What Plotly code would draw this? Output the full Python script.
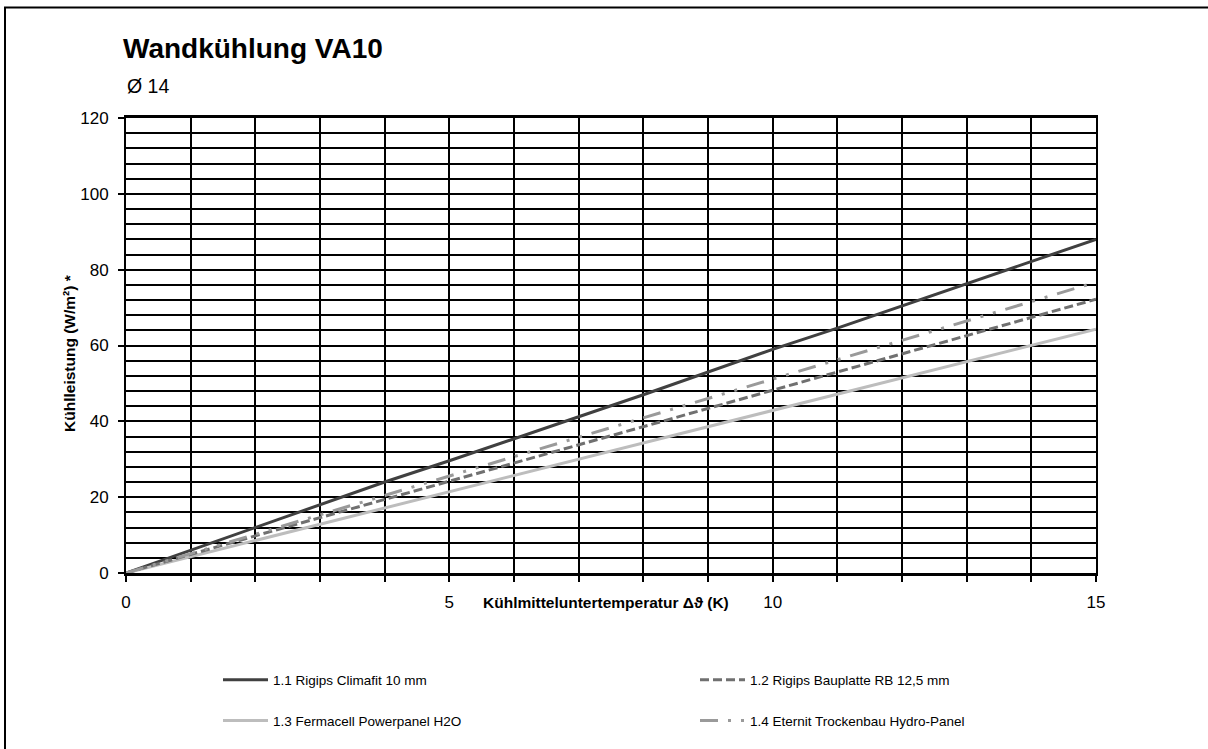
import plotly.graph_objects as go

x_vals = [0, 1, 2, 3, 4, 5, 6, 7, 8, 9, 10, 11, 12, 13, 14, 15]
s11 = [0, 6.0, 12.0, 18.0, 24.0, 29.6, 35.5, 41.2, 47.0, 53.0, 59.0, 64.6, 70.4, 76.2, 82.0, 88.0]
s12 = [0, 5.0, 9.8, 14.6, 19.4, 24.3, 29.0, 33.9, 38.7, 43.5, 48.4, 53.2, 58.0, 62.8, 67.4, 72.2]
s13 = [0, 4.3, 8.6, 12.9, 17.2, 21.4, 25.7, 30.0, 34.2, 38.6, 42.9, 47.2, 51.4, 55.8, 60.0, 64.3]
s14 = [0, 5.1, 10.3, 15.4, 20.5, 25.6, 30.7, 35.8, 41.0, 46.0, 51.2, 56.3, 61.4, 66.5, 71.6, 76.7]

names = ["1.1 Rigips Climafit 10 mm", "1.2 Rigips Bauplatte RB 12,5 mm",
         "1.3 Fermacell Powerpanel H2O", "1.4 Eternit Trockenbau Hydro-Panel"]

x_tickvals = list(range(0, 16))
x_ticktext = [str(v) if v % 5 == 0 else "" for v in x_tickvals]

W, H = 1208, 749
L, R, T, B = 126, 1096, 118, 575

def px(xp):
    return (xp - L) / (R - L)

def py(yp):
    return (B - yp) / (B - T)

fig = go.Figure()
fig.add_trace(go.Scatter(x=x_vals, y=s11, mode="lines", name=names[0],
                         line=dict(color="#404040", width=3), legend="legend", legendgroup="a"))
fig.add_trace(go.Scatter(x=x_vals, y=s13, mode="lines", name=names[2],
                         line=dict(color="#bdbdbd", width=3), legend="legend", legendgroup="b"))
fig.add_trace(go.Scatter(x=x_vals, y=s12, mode="lines", name=names[1],
                         line=dict(color="#707070", width=3, dash="9px,4px"), legend="legend2", legendgroup="c"))
fig.add_trace(go.Scatter(x=x_vals, y=s14, mode="lines", name=names[3],
                         line=dict(color="#9a9a9a", width=3, dash="18px,10px,3px,10px,3px,10px"),
                         legend="legend2", legendgroup="d"))

font = "Liberation Sans, Arial, sans-serif"

fig.update_layout(
    width=W, height=H,
    margin=dict(l=L, r=W - R, t=T, b=H - B),
    paper_bgcolor="white", plot_bgcolor="white",
    font=dict(family=font, color="black", size=17),
    showlegend=True,
    legend=dict(x=px(218), y=py(667), xanchor="left", yanchor="top",
                font=dict(size=13.5, family=font), tracegroupgap=20,
                bgcolor="rgba(0,0,0,0)", itemwidth=45),
    legend2=dict(x=px(695), y=py(667), xanchor="left", yanchor="top",
                 font=dict(size=13.5, family=font), tracegroupgap=20,
                 bgcolor="rgba(0,0,0,0)", itemwidth=45),
    xaxis=dict(range=[0, 15], tickmode="array", tickvals=x_tickvals, ticktext=x_ticktext,
               ticks="outside", ticklen=6, tickwidth=2, tickcolor="black",
               ticklabelstandoff=6,
               showgrid=True, gridcolor="black", gridwidth=2,
               showline=True, linecolor="black", linewidth=2.5, mirror=True,
               zeroline=False, tickfont=dict(size=17), fixedrange=True),
    yaxis=dict(range=[0, 120], tickmode="linear", tick0=0, dtick=20,
               ticks="outside", ticklen=6, tickwidth=2, tickcolor="black",
               ticklabelstandoff=6,
               showgrid=True, gridcolor="black", gridwidth=1.8,
               minor=dict(dtick=4, showgrid=True, gridcolor="black", gridwidth=1.8),
               showline=True, linecolor="black", linewidth=2, mirror=True,
               zeroline=False, tickfont=dict(size=17), fixedrange=True),
)

fig.add_annotation(text="<b>Wandkühlung VA10</b>", xref="paper", yref="paper",
                   x=px(121), y=py(48), xanchor="left", yanchor="middle",
                   showarrow=False, font=dict(size=28, family=font))
fig.add_annotation(text="Ø 14", xref="paper", yref="paper",
                   x=px(125), y=py(86), xanchor="left", yanchor="middle",
                   showarrow=False, font=dict(size=19.5, family=font))
fig.add_annotation(text="<b>Kühlmitteluntertemperatur Δϑ (K)</b>", xref="paper", yref="paper",
                   x=px(606), y=py(605), xanchor="center", yanchor="middle",
                   showarrow=False, font=dict(size=15.5, family=font))
fig.add_annotation(text="<b>Kühlleistung (W/m²) *</b>", xref="paper", yref="paper",
                   x=px(70), y=py(354), xanchor="center", yanchor="middle", textangle=-90,
                   showarrow=False, font=dict(size=15.5, family=font))

fig.add_shape(type="rect", xref="paper", yref="paper",
              x0=px(5), x1=px(1220), y0=py(765), y1=py(7),
              line=dict(color="black", width=2), fillcolor="rgba(0,0,0,0)", layer="below")

fig.write_html("out.html")
